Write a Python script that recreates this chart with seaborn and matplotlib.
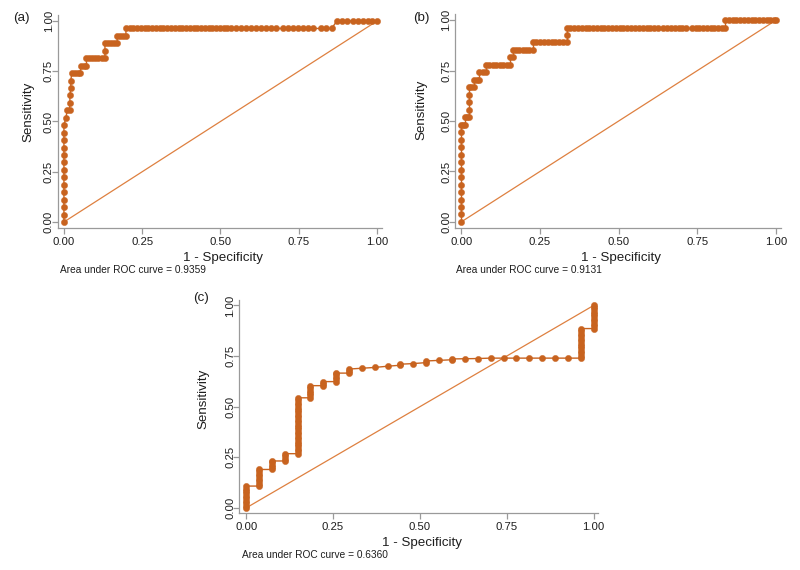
import matplotlib
matplotlib.use("Agg")
import matplotlib.pyplot as plt
import seaborn as sns

# ---- data (1 - specificity, sensitivity) ----
fpr_a = [0, 0, 0, 0, 0, 0, 0, 0, 0, 0, 0, 0, 0, 0,
         0.006, 0.011, 0.018, 0.019, 0.019, 0.022, 0.022,
         0.025, 0.035, 0.045, 0.052,
         0.055, 0.064, 0.072,
         0.072, 0.080, 0.090, 0.100, 0.110, 0.120, 0.131,
         0.131,
         0.131, 0.140, 0.150, 0.160, 0.170,
         0.170, 0.180, 0.190, 0.198,
         0.198, 0.210, 0.222, 0.234, 0.246, 0.258, 0.270, 0.282, 0.294, 0.306,
         0.318, 0.330, 0.342, 0.354, 0.366, 0.378, 0.390, 0.402, 0.414, 0.426,
         0.438, 0.450, 0.462, 0.474, 0.486, 0.498, 0.510, 0.522, 0.534,
         0.550, 0.566, 0.582, 0.598, 0.614, 0.630, 0.646, 0.662, 0.676,
         0.700, 0.716, 0.732, 0.748, 0.764, 0.780, 0.796,
         0.822, 0.838, 0.855,
         0.872, 0.888, 0.905, 0.922, 0.938, 0.954, 0.970, 0.985, 1.0]
tpr_a = [0, 0.037, 0.074, 0.111, 0.148, 0.185, 0.222, 0.259, 0.296, 0.333, 0.370, 0.407, 0.444, 0.481,
         0.519, 0.556, 0.556, 0.593, 0.630, 0.667, 0.704,
         0.741, 0.741, 0.741, 0.741,
         0.778, 0.778, 0.778,
         0.815, 0.815, 0.815, 0.815, 0.815, 0.815, 0.815,
         0.852,
         0.889, 0.889, 0.889, 0.889, 0.889,
         0.926, 0.926, 0.926, 0.926,
         0.963, 0.963, 0.963, 0.963, 0.963, 0.963, 0.963, 0.963, 0.963, 0.963,
         0.963, 0.963, 0.963, 0.963, 0.963, 0.963, 0.963, 0.963, 0.963, 0.963,
         0.963, 0.963, 0.963, 0.963, 0.963, 0.963, 0.963, 0.963, 0.963,
         0.963, 0.963, 0.963, 0.963, 0.963, 0.963, 0.963, 0.963, 0.963,
         0.963, 0.963, 0.963, 0.963, 0.963, 0.963, 0.963,
         0.963, 0.963, 0.963,
         1.0, 1.0, 1.0, 1.0, 1.0, 1.0, 1.0, 1.0, 1.0]

fpr_b = [0, 0, 0, 0, 0, 0, 0, 0, 0, 0, 0, 0, 0,
         0, 0.006, 0.012,
         0.012, 0.018, 0.024,
         0.024, 0.024, 0.024,
         0.024, 0.032, 0.040,
         0.040, 0.049, 0.058,
         0.058, 0.068, 0.078,
         0.078, 0.089, 0.100, 0.111, 0.122, 0.133, 0.144, 0.155,
         0.155, 0.165,
         0.165, 0.175, 0.185, 0.195, 0.205, 0.216, 0.227,
         0.227, 0.239, 0.251, 0.263, 0.275, 0.287, 0.299, 0.311, 0.323, 0.335,
         0.335,
         0.335, 0.347, 0.359, 0.371, 0.383, 0.395, 0.407, 0.419, 0.431, 0.443,
         0.455, 0.467, 0.479, 0.491, 0.503, 0.515, 0.527, 0.539, 0.551,
         0.565, 0.577, 0.589, 0.601, 0.613, 0.625,
         0.642, 0.654, 0.666, 0.678, 0.690, 0.702, 0.714,
         0.732, 0.744, 0.756, 0.768, 0.780, 0.792, 0.804, 0.816, 0.828, 0.838,
         0.838, 0.850, 0.862, 0.874, 0.886, 0.898, 0.910, 0.922, 0.934, 0.946,
         0.958, 0.970, 0.982, 0.994, 1.0]
tpr_b = [0, 0.037, 0.074, 0.111, 0.148, 0.185, 0.222, 0.259, 0.296, 0.333, 0.370, 0.407, 0.444,
         0.481, 0.481, 0.481,
         0.519, 0.519, 0.519,
         0.556, 0.593, 0.630,
         0.667, 0.667, 0.667,
         0.704, 0.704, 0.704,
         0.741, 0.741, 0.741,
         0.778, 0.778, 0.778, 0.778, 0.778, 0.778, 0.778, 0.778,
         0.815, 0.815,
         0.852, 0.852, 0.852, 0.852, 0.852, 0.852, 0.852,
         0.889, 0.889, 0.889, 0.889, 0.889, 0.889, 0.889, 0.889, 0.889, 0.889,
         0.926,
         0.963, 0.963, 0.963, 0.963, 0.963, 0.963, 0.963, 0.963, 0.963, 0.963,
         0.963, 0.963, 0.963, 0.963, 0.963, 0.963, 0.963, 0.963, 0.963,
         0.963, 0.963, 0.963, 0.963, 0.963, 0.963,
         0.963, 0.963, 0.963, 0.963, 0.963, 0.963, 0.963,
         0.963, 0.963, 0.963, 0.963, 0.963, 0.963, 0.963, 0.963, 0.963, 0.963,
         1.0, 1.0, 1.0, 1.0, 1.0, 1.0, 1.0, 1.0, 1.0, 1.0,
         1.0, 1.0, 1.0, 1.0, 1.0]

fpr_c = [0, 0, 0, 0, 0, 0, 0, 0, 0, 0,
         0.037, 0.037, 0.037, 0.037, 0.037, 0.037, 0.037, 0.037,
         0.074, 0.074, 0.074, 0.074, 0.074,
         0.111, 0.111, 0.111, 0.111,
         0.148, 0.148, 0.148, 0.148, 0.148, 0.148, 0.148, 0.148, 0.148, 0.148,
         0.148, 0.148, 0.148, 0.148, 0.148, 0.148, 0.148, 0.148, 0.148, 0.148,
         0.148, 0.148, 0.148, 0.148,
         0.185, 0.185, 0.185, 0.185, 0.185, 0.185,
         0.222, 0.222, 0.222,
         0.259, 0.259, 0.259, 0.259, 0.259,
         0.296, 0.296, 0.296,
         0.333, 0.370, 0.407, 0.444, 0.444, 0.481, 0.519, 0.519, 0.556,
         0.593, 0.593, 0.630, 0.667, 0.704, 0.741, 0.778, 0.815, 0.852, 0.889, 0.926,
         0.963, 0.963, 0.963, 0.963, 0.963, 0.963, 0.963, 0.963, 0.963, 0.963,
         0.963, 0.963, 0.963,
         1.0, 1.0, 1.0, 1.0, 1.0, 1.0, 1.0, 1.0, 1.0, 1.0, 1.0]
tpr_c = [0, 0.012, 0.024, 0.036, 0.048, 0.060, 0.072, 0.084, 0.096, 0.108,
         0.108, 0.120, 0.132, 0.144, 0.156, 0.168, 0.180, 0.190,
         0.190, 0.202, 0.214, 0.226, 0.232,
         0.232, 0.244, 0.256, 0.268,
         0.268, 0.280, 0.292, 0.304, 0.316, 0.328, 0.340, 0.352, 0.364, 0.376,
         0.388, 0.400, 0.412, 0.424, 0.436, 0.448, 0.460, 0.472, 0.484, 0.496,
         0.508, 0.520, 0.532, 0.544,
         0.544, 0.556, 0.568, 0.580, 0.592, 0.604,
         0.604, 0.614, 0.624,
         0.624, 0.636, 0.648, 0.660, 0.666,
         0.666, 0.678, 0.686,
         0.690, 0.694, 0.700, 0.705, 0.710, 0.713, 0.718, 0.726, 0.729,
         0.732, 0.736, 0.737, 0.738, 0.740, 0.740, 0.740, 0.740, 0.740, 0.740, 0.740,
         0.740, 0.752, 0.764, 0.776, 0.788, 0.800, 0.812, 0.824, 0.836, 0.848,
         0.860, 0.872, 0.886,
         0.886, 0.898, 0.910, 0.922, 0.934, 0.946, 0.958, 0.970, 0.982, 0.994, 1.0]

auc_a, auc_b, auc_c = "0.9359", "0.9131", "0.6360"
ticks = [0, 0.25, 0.5, 0.75, 1.0]
tick_labels = ["0.00", "0.25", "0.50", "0.75", "1.00"]
ref_line = [0, 1]

sns.set_style("ticks")
plt.rcParams["font.family"] = ["Liberation Sans", "DejaVu Sans"]

curve_col = "#C8631F"
diag_col = "#DE8040"
axis_col = "#9A9A9A"
text_col = "#1E1E1E"

fig = plt.figure(figsize=(8, 5.7), dpi=100)


def draw_roc(rect, fpr, tpr, auc, panel, xlim, ylim, ylab_x, ylab_y, auc_xy, panel_xy):
    ax = fig.add_axes(rect)
    sns.lineplot(x=ref_line, y=ref_line, ax=ax, color=diag_col, linewidth=0.9)
    sns.lineplot(x=fpr, y=tpr, ax=ax, sort=False, estimator=None,
                 color=curve_col, linewidth=1.0, marker="o", markersize=4.5,
                 markeredgewidth=0.3, markeredgecolor=curve_col)
    ax.set_xlim(*xlim)
    ax.set_ylim(*ylim)
    ax.set_xticks(ticks)
    ax.set_xticklabels(tick_labels)
    ax.set_yticks(ticks)
    ax.set_yticklabels(tick_labels, rotation=90, va="center")
    ax.tick_params(length=4, width=0.9, color=axis_col, labelsize=8.2,
                   labelcolor=text_col)
    ax.tick_params(axis="x", pad=2.5)
    ax.tick_params(axis="y", pad=-1)
    sns.despine(ax=ax)
    for side in ["left", "bottom"]:
        ax.spines[side].set_color(axis_col)
        ax.spines[side].set_linewidth(0.9)
    ax.set_xlabel("1 - Specificity", fontsize=9.6, color=text_col)
    ax.set_ylabel("Sensitivity", fontsize=9.6, color=text_col)
    ax.xaxis.set_label_coords(0.51, -0.112)
    ax.yaxis.set_label_coords(ylab_x, ylab_y)
    fig.text(auc_xy[0], auc_xy[1], "Area under ROC curve = " + auc,
             fontsize=7.3, color=text_col, va="center", ha="left")
    fig.text(panel_xy[0], panel_xy[1], panel, fontsize=9.6, color=text_col,
             va="center", ha="left")
    return ax


draw_roc([0.0725, 0.6, 0.405, 0.3737], fpr_a, tpr_a, auc_a, "(a)",
         (-0.019, 1.016), (-0.03, 1.03), -0.074, 0.545,
         (0.075, 1 - 270 / 570), (13 / 800, 1 - 18 / 570))
draw_roc([0.569, 0.6, 0.4075, 0.3754], fpr_b, tpr_b, auc_b, "(b)",
         (-0.019, 1.016), (-0.03, 1.03), -0.086, 0.551,
         (456 / 800, 1 - 270 / 570), (413 / 800, 1 - 18 / 570))
draw_roc([0.299, 0.1, 0.449, 0.374], fpr_c, tpr_c, auc_c, "(c)",
         (-0.02, 1.014), (-0.025, 1.028), -0.084, 0.535,
         (242 / 800, 1 - 555 / 570), (193 / 800, 1 - 298 / 570))

fig.savefig("out.png", dpi=100)
